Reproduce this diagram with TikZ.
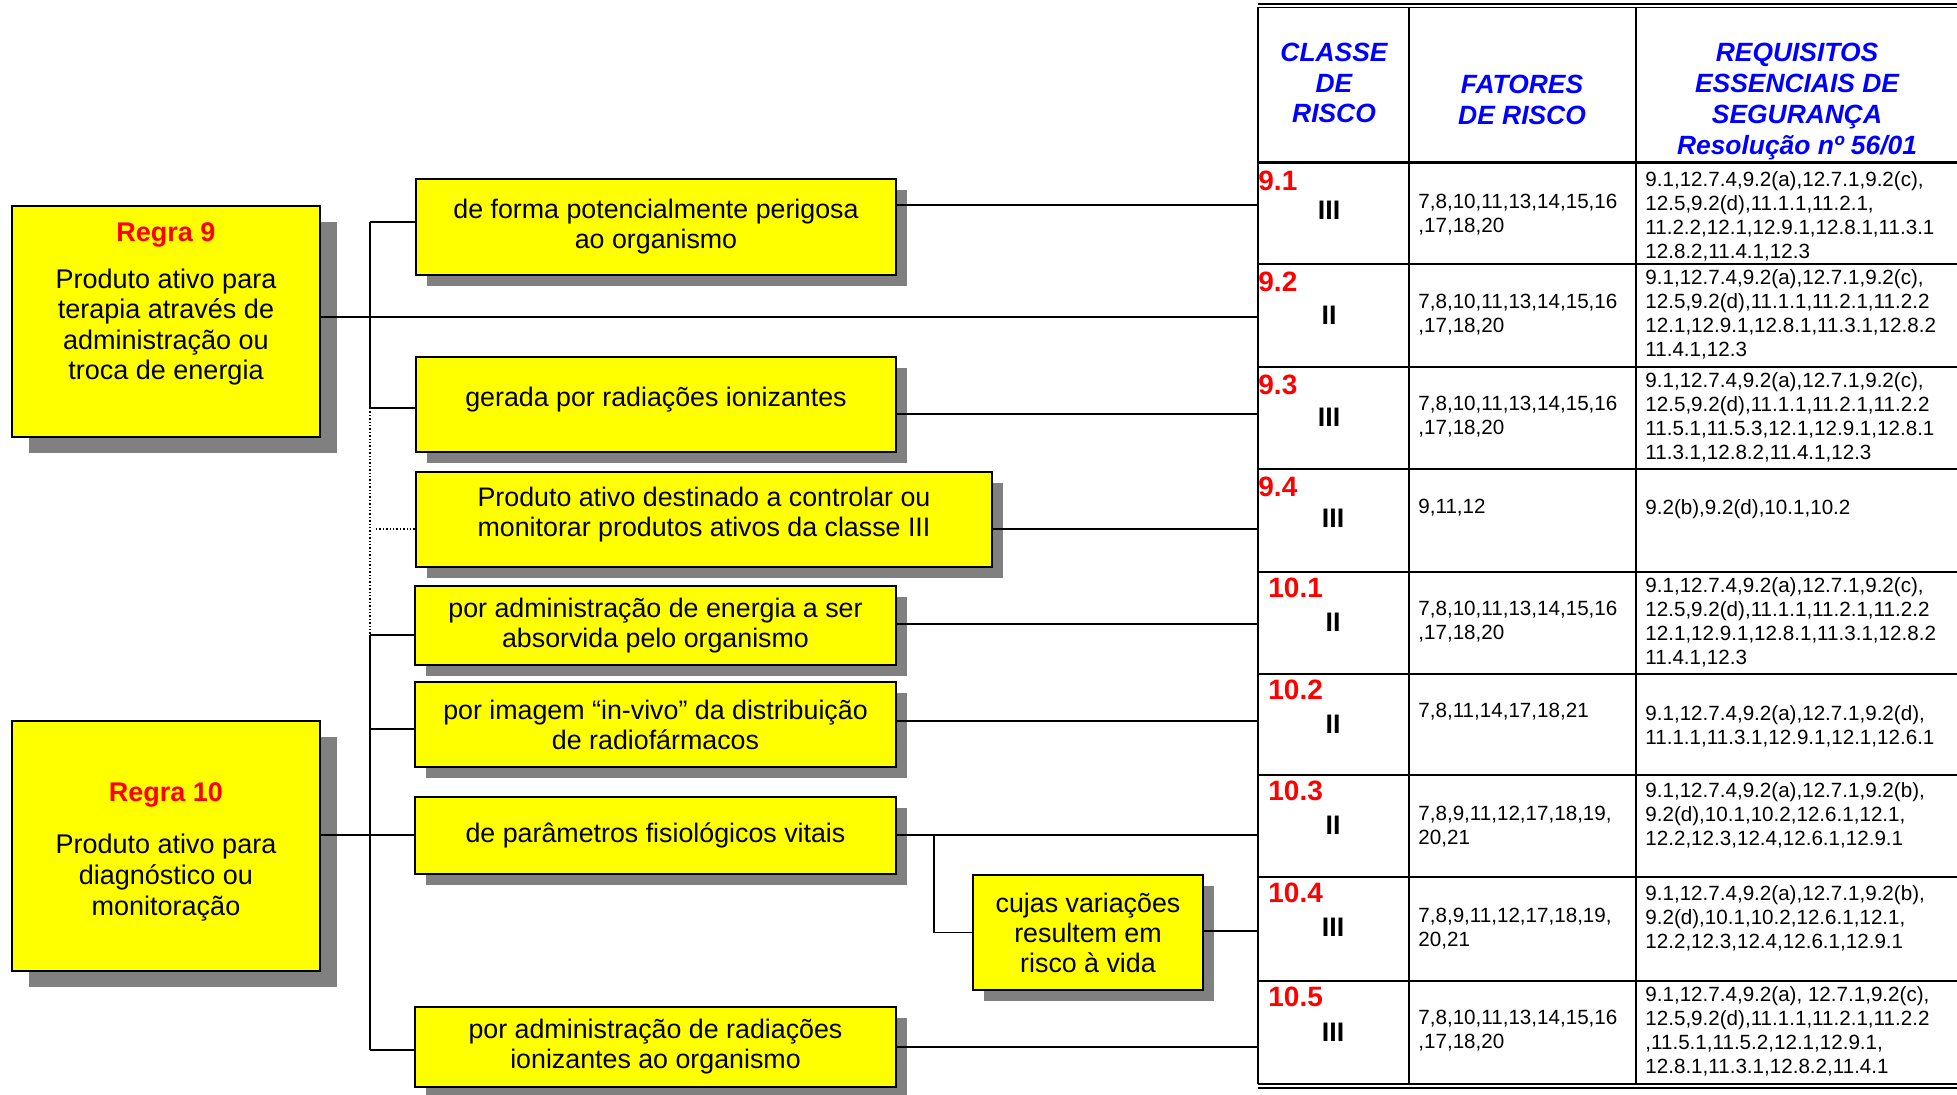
\documentclass[tikz,border=0pt]{standalone}
\usepackage{fontspec}
\setmainfont{Liberation Sans}
\usetikzlibrary{shadows}
\definecolor{amarelo}{RGB}{255,255,0}
\definecolor{sombra}{RGB}{128,128,128}
\definecolor{vermelho}{RGB}{255,0,0}
\definecolor{azul}{RGB}{0,0,255}
\tikzset{
  regra/.style={draw=black, line width=0.9pt, fill=amarelo, align=center, inner sep=0pt,
    minimum width=154pt, font=\fontsize{13.5}{15.3}\selectfont,
    drop shadow={shadow xshift=8.5pt, shadow yshift=-8pt, fill=sombra, opacity=1}},
  caixa/.style={draw=black, line width=0.9pt, fill=amarelo, align=center, inner sep=0pt,
    font=\fontsize{13.4}{15}\selectfont,
    drop shadow={shadow xshift=5.5pt, shadow yshift=-5.5pt, fill=sombra, opacity=1}},
  cabec/.style={font=\fontsize{13.2}{15.4}\selectfont\bfseries\itshape, text=azul,
    align=center, inner sep=0pt},
  celula/.style={font=\fontsize{10.3}{12}\selectfont, align=left, inner sep=0pt},
  classe/.style={font=\fontsize{14}{14}\selectfont\bfseries, text=vermelho, inner sep=0pt, anchor=west},
  grau/.style={font=\fontsize{13.4}{13.4}\selectfont\bfseries, inner sep=0pt},
  liga/.style={line width=0.7pt},
  grade/.style={line width=1pt}
}
\begin{document}
\begin{tikzpicture}[x=0.5pt, y=-0.5pt]
  \useasboundingbox (0,0) rectangle (1957,1095);
  % regras
  \node[regra, minimum height=115.5pt] (regra9) at (166,321.5)
    {{\color{vermelho}\bfseries Regra 9}\\[8pt]Produto ativo para\\terapia através de\\administração ou\\troca de energia\\[5pt]\mbox{}};
  \node[regra, minimum height=125pt] (regra10) at (166,846)
    {\mbox{}\\{\color{vermelho}\bfseries Regra 10}\\[10.7pt]Produto ativo para\\diagnóstico ou\\monitoração};
  % caixas intermediarias
  \node[caixa, minimum width=240pt, minimum height=48pt] (potencial) at (656,227)
    {de forma potencialmente perigosa\\ao organismo};
  \node[caixa, minimum width=240pt, minimum height=47.5pt] (ionizante) at (656,404.5)
    {gerada por radiações ionizantes\\[-7pt]\mbox{}};
  \node[caixa, minimum width=288pt, minimum height=47.5pt] (controle) at (704,519.5)
    {Produto ativo destinado a controlar ou\\monitorar produtos ativos da classe III\\[-7pt]\mbox{}};
  \node[caixa, minimum width=240.5pt, minimum height=39.5pt] (energia) at (655.5,625.5)
    {por administração de energia a ser\\absorvida pelo organismo};
  \node[caixa, minimum width=240.5pt, minimum height=42.5pt] (imagem) at (655.5,724.5)
    {por imagem “in-vivo” da distribuição\\de radiofármacos};
  \node[caixa, minimum width=240.5pt, minimum height=38.5pt] (vitais) at (655.5,835.5)
    {de parâmetros fisiológicos vitais};
  \node[caixa, minimum width=115pt, minimum height=57.5pt] (risco) at (1088,932.5)
    {cujas variações\\resultem em\\risco à vida};
  \node[caixa, minimum width=240.5pt, minimum height=40pt] (radiacao) at (655.5,1047)
    {por administração de radiações\\ionizantes ao organismo};

  % tabela
  \draw[line width=1pt] (1258,4.3) -- (1957,4.3);
  \draw[line width=0.5pt] (1258,7.3) -- (1957,7.3);
  \foreach \x in {1258,1409,1636}
    \draw[grade] (\x,7) -- (\x,1083.5);
  \draw[line width=1.35pt] (1258,162.7) -- (1957,162.7);
  \foreach \y in {264,367,469,572,674,775,877,981}
    \draw[grade] (1258,\y) -- (1957,\y);
  \draw[grade] (1258,1083.5) -- (1957,1083.5);
  \draw[grade] (1258,1087.5) -- (1957,1087.5);

  \node[cabec] (hclasse) at (1334,83) {CLASSE\\DE\\RISCO};
  \node[cabec] (hfatores) at (1522,100) {FATORES\\DE RISCO};
  \node[cabec] (hrequisitos) at (1797,101.5) {REQUISITOS\\ESSENCIAIS DE\\SEGURANÇA\\Resolução nº 56/01};

  % classes
  \node[classe] (n91) at (1258,181) {9.1};
  \node[classe] (n92) at (1258,282) {9.2};
  \node[classe] (n93) at (1258,385) {9.3};
  \node[classe] (n94) at (1258,487) {9.4};
  \node[classe] (n101) at (1268,588) {10.1};
  \node[classe] (n102) at (1268,690) {10.2};
  \node[classe] (n103) at (1268,791) {10.3};
  \node[classe] (n104) at (1268,893) {10.4};
  \node[classe] (n105) at (1268,997) {10.5};
  \node[grau] (g91) at (1329,210) {III};
  \node[grau] (g92) at (1329,315) {II};
  \node[grau] (g93) at (1329,417) {III};
  \node[grau] (g94) at (1333,518) {III};
  \node[grau] (g101) at (1333,622) {II};
  \node[grau] (g102) at (1333,724) {II};
  \node[grau] (g103) at (1333,825) {II};
  \node[grau] (g104) at (1333,927) {III};
  \node[grau] (g105) at (1333,1032) {III};

  % fatores de risco
  \node[celula, anchor=west] (f91) at (1418,215) {7,8,10,11,13,14,15,16\\,17,18,20};
  \node[celula, anchor=west] (f92) at (1418,315) {7,8,10,11,13,14,15,16\\,17,18,20};
  \node[celula, anchor=west] (f93) at (1418,416.5) {7,8,10,11,13,14,15,16\\,17,18,20};
  \node[celula, anchor=west] (f94) at (1418,508) {9,11,12};
  \node[celula, anchor=west] (f101) at (1418,621.5) {7,8,10,11,13,14,15,16\\,17,18,20};
  \node[celula, anchor=west] (f102) at (1418,712) {7,8,11,14,17,18,21};
  \node[celula, anchor=west] (f103) at (1418,826.5) {7,8,9,11,12,17,18,19,\\20,21};
  \node[celula, anchor=west] (f104) at (1418,928.5) {7,8,9,11,12,17,18,19,\\20,21};
  \node[celula, anchor=west] (f105) at (1418,1031) {7,8,10,11,13,14,15,16\\,17,18,20};

  % requisitos essenciais
  \node[celula, anchor=north west] (q91) at (1645,171)
    {9.1,12.7.4,9.2(a),12.7.1,9.2(c),\\12.5,9.2(d),11.1.1,11.2.1,\\11.2.2,12.1,12.9.1,12.8.1,11.3.1\\12.8.2,11.4.1,12.3};
  \node[celula, anchor=north west] (q92) at (1645,269)
    {9.1,12.7.4,9.2(a),12.7.1,9.2(c),\\12.5,9.2(d),11.1.1,11.2.1,11.2.2\\12.1,12.9.1,12.8.1,11.3.1,12.8.2\\11.4.1,12.3};
  \node[celula, anchor=north west] (q93) at (1645,372)
    {9.1,12.7.4,9.2(a),12.7.1,9.2(c),\\12.5,9.2(d),11.1.1,11.2.1,11.2.2\\11.5.1,11.5.3,12.1,12.9.1,12.8.1\\11.3.1,12.8.2,11.4.1,12.3};
  \node[celula, anchor=north west] (q94) at (1645,499) {9.2(b),9.2(d),10.1,10.2};
  \node[celula, anchor=north west] (q101) at (1645,577)
    {9.1,12.7.4,9.2(a),12.7.1,9.2(c),\\12.5,9.2(d),11.1.1,11.2.1,11.2.2\\12.1,12.9.1,12.8.1,11.3.1,12.8.2\\11.4.1,12.3};
  \node[celula, anchor=north west] (q102) at (1645,705)
    {9.1,12.7.4,9.2(a),12.7.1,9.2(d),\\11.1.1,11.3.1,12.9.1,12.1,12.6.1};
  \node[celula, anchor=north west] (q103) at (1645,782)
    {9.1,12.7.4,9.2(a),12.7.1,9.2(b),\\9.2(d),10.1,10.2,12.6.1,12.1,\\12.2,12.3,12.4,12.6.1,12.9.1};
  \node[celula, anchor=north west] (q104) at (1645,885)
    {9.1,12.7.4,9.2(a),12.7.1,9.2(b),\\9.2(d),10.1,10.2,12.6.1,12.1,\\12.2,12.3,12.4,12.6.1,12.9.1};
  \node[celula, anchor=north west] (q105) at (1645,986)
    {9.1,12.7.4,9.2(a), 12.7.1,9.2(c),\\12.5,9.2(d),11.1.1,11.2.1,11.2.2\\,11.5.1,11.5.2,12.1,12.9.1,\\12.8.1,11.3.1,12.8.2,11.4.1};

  % pontos de ligacao
  \coordinate (t9a) at (370,222);
  \coordinate (t9b) at (370,408);
  \coordinate (tc) at (376,529);
  \coordinate (t10a) at (370,635);
  \coordinate (t10b) at (370,729);
  \coordinate (t10c) at (370,835);
  \coordinate (t10d) at (370,1050);
  \coordinate (sub) at (934,835);
  \coordinate (r91) at (1258,205);
  \coordinate (r92) at (1258,317);
  \coordinate (r93) at (1258,414);
  \coordinate (r94) at (1258,529);
  \coordinate (r101) at (1258,624);
  \coordinate (r102) at (1258,721);
  \coordinate (r103) at (1258,835);
  \coordinate (r104) at (1258,931);
  \coordinate (r105) at (1258,1047);

  % ligacoes
  \draw[liga] (r92 -| regra9.east) -- (r92);
  \draw[liga] (t9a) -- (t9b);
  \draw[liga] (t9a) -- (t9a -| potencial.west);
  \draw[liga] (t9b) -- (t9b -| ionizante.west);
  \draw[liga, densely dotted] (t9b) -- (t10a);
  \draw[liga, densely dotted] (tc) -- (tc -| controle.west);
  \draw[liga] (t10a) -- (t10d);
  \draw[liga] (t10c -| regra10.east) -- (t10c -| vitais.west);
  \draw[liga] (t10a) -- (t10a -| energia.west);
  \draw[liga] (t10b) -- (t10b -| imagem.west);
  \draw[liga] (t10d) -- (t10d -| radiacao.west);
  \draw[liga] (r91 -| potencial.east) -- (r91);
  \draw[liga] (r93 -| ionizante.east) -- (r93);
  \draw[liga] (r94 -| controle.east) -- (r94);
  \draw[liga] (r101 -| energia.east) -- (r101);
  \draw[liga] (r102 -| imagem.east) -- (r102);
  \draw[liga] (r103 -| vitais.east) -- (r103);
  \draw[liga] (sub) |- (risco.west);
  \draw[liga] (r104 -| risco.east) -- (r104);
  \draw[liga] (r105 -| radiacao.east) -- (r105);
\end{tikzpicture}
\end{document}
